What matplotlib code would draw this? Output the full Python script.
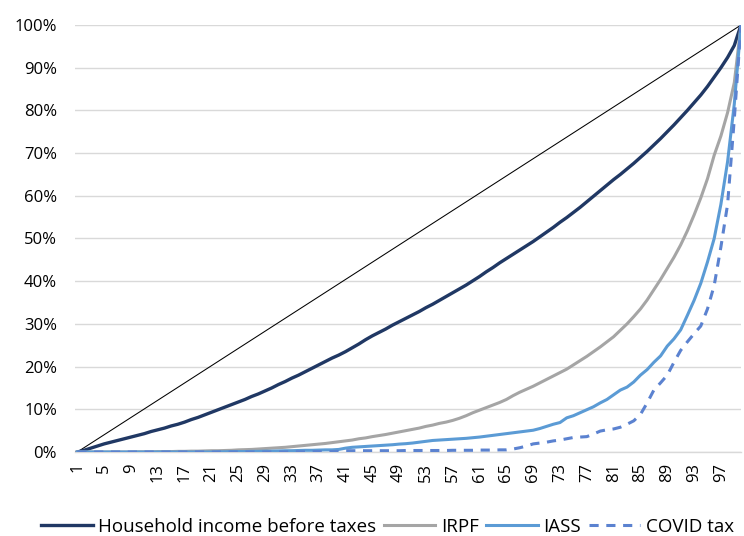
import matplotlib
matplotlib.use("Agg")
import matplotlib.pyplot as plt
from matplotlib.ticker import FuncFormatter

plt.rcParams['font.family'] = ['Open Sans', 'DejaVu Sans']

percentiles = list(range(1, 101))
tick_labels = [str(p) for p in range(1, 101, 4)]

equality_x = [1, 100]
equality_y = [0.0, 100.0]

income = [0.0, 0.4, 0.9, 1.4, 1.9, 2.3, 2.7, 3.1, 3.5, 3.9,
          4.3, 4.8, 5.2, 5.6, 6.1, 6.5, 7.0, 7.6, 8.1, 8.7,
          9.3, 9.9, 10.5, 11.1, 11.7, 12.3, 13.0, 13.6, 14.3, 15.0,
          15.8, 16.5, 17.3, 18.0, 18.8, 19.6, 20.4, 21.2, 22.0, 22.7,
          23.5, 24.4, 25.3, 26.3, 27.2, 28.0, 28.8, 29.7, 30.5, 31.3,
          32.1, 32.9, 33.8, 34.6, 35.5, 36.4, 37.3, 38.2, 39.1, 40.1,
          41.1, 42.2, 43.2, 44.3, 45.3, 46.3, 47.3, 48.3, 49.3, 50.4,
          51.5, 52.6, 53.8, 54.9, 56.1, 57.3, 58.6, 59.9, 61.2, 62.5,
          63.8, 65.0, 66.3, 67.6, 69.0, 70.4, 71.9, 73.4, 75.0, 76.6,
          78.3, 80.0, 81.8, 83.6, 85.6, 87.8, 90.0, 92.4, 95.2, 100.0]

irpf = [0.0, 0.0, 0.0, 0.0, 0.0, 0.0, 0.0, 0.0, 0.0, 0.05,
        0.05, 0.05, 0.1, 0.1, 0.1, 0.15, 0.15, 0.2, 0.2, 0.25,
        0.3, 0.3, 0.35, 0.4, 0.5, 0.55, 0.6, 0.7, 0.8, 0.9,
        1.0, 1.1, 1.25, 1.4, 1.55, 1.7, 1.85, 2.0, 2.2, 2.4,
        2.6, 2.8, 3.1, 3.3, 3.6, 3.85, 4.1, 4.4, 4.7, 5.0,
        5.3, 5.6, 6.0, 6.3, 6.7, 7.0, 7.4, 7.9, 8.5, 9.2,
        9.8, 10.4, 11.0, 11.6, 12.3, 13.2, 14.0, 14.7, 15.4, 16.2,
        17.0, 17.8, 18.6, 19.4, 20.4, 21.4, 22.4, 23.5, 24.6, 25.8,
        27.0, 28.5, 30.0, 31.7, 33.5, 35.6, 38.0, 40.4, 43.0, 45.6,
        48.5, 51.8, 55.5, 59.5, 64.0, 69.5, 74.0, 79.5, 86.5, 100.0]

iass = [0.0, 0.0, 0.0, 0.0, 0.0, 0.0, 0.0, 0.0, 0.0, 0.0,
        0.0, 0.0, 0.0, 0.0, 0.0, 0.0, 0.0, 0.0, 0.0, 0.0,
        0.0, 0.05, 0.05, 0.1, 0.1, 0.1, 0.15, 0.15, 0.2, 0.2,
        0.25, 0.3, 0.3, 0.35, 0.4, 0.4, 0.45, 0.5, 0.5, 0.6,
        0.9, 1.1, 1.2, 1.3, 1.4, 1.5, 1.6, 1.7, 1.85, 1.95,
        2.1, 2.3, 2.5, 2.7, 2.8, 2.9, 3.0, 3.1, 3.2, 3.35,
        3.5, 3.7, 3.9, 4.1, 4.3, 4.5, 4.7, 4.9, 5.1, 5.5,
        6.0, 6.5, 6.9, 8.0, 8.5, 9.2, 9.9, 10.6, 11.5, 12.3,
        13.4, 14.5, 15.2, 16.4, 18.0, 19.3, 21.0, 22.5, 24.8, 26.5,
        28.6, 32.0, 35.5, 39.5, 44.5, 50.0, 58.0, 68.0, 81.5, 100.0]

covid = [0.0, 0.0, 0.0, 0.0, 0.0, 0.0, 0.0, 0.0, 0.0, 0.0,
         0.0, 0.0, 0.0, 0.0, 0.0, 0.0, 0.0, 0.0, 0.0, 0.0,
         0.0, 0.0, 0.0, 0.0, 0.0, 0.0, 0.0, 0.0, 0.0, 0.0,
         0.0, 0.0, 0.05, 0.05, 0.05, 0.1, 0.1, 0.1, 0.1, 0.15,
         0.3, 0.3, 0.3, 0.3, 0.3, 0.3, 0.3, 0.3, 0.3, 0.35,
         0.35, 0.35, 0.35, 0.35, 0.35, 0.35, 0.4, 0.4, 0.4, 0.4,
         0.45, 0.45, 0.45, 0.5, 0.5, 0.7, 1.0, 1.4, 1.9, 2.1,
         2.3, 2.6, 2.8, 3.1, 3.4, 3.5, 3.6, 4.2, 4.9, 5.2,
         5.4, 5.8, 6.5, 7.3, 8.8, 11.5, 14.5, 16.2, 18.0, 21.0,
         23.8, 25.8, 27.7, 29.5, 33.5, 39.0, 48.0, 58.0, 78.0, 100.0]

series_names = ["Household income before taxes", "IRPF", "IASS", "COVID tax"]

fig = plt.figure(figsize=(7.44, 5.36), dpi=100)
ax = fig.add_axes([75/744, 1 - 452/536, 666/744, 427/536])

ax.plot(equality_x, [v / 100 for v in equality_y], color="black", lw=0.75, zorder=3)
ax.plot(percentiles, [v / 100 for v in income], color="#203864", lw=2.4, label=series_names[0], zorder=4)
ax.plot(percentiles, [v / 100 for v in irpf], color="#A5A5A5", lw=2.2, label=series_names[1], zorder=4)
ax.plot(percentiles, [v / 100 for v in iass], color="#5B9BD5", lw=2.2, label=series_names[2], zorder=5)
ax.plot(percentiles, [v / 100 for v in covid], color="#5B82D0", lw=2.2, ls=(0, (3, 2.5)),
        label=series_names[3], zorder=5)

ax.set_xlim(0.65, 100)
ax.set_ylim(0, 1)
ax.set_yticks([i / 10 for i in range(11)])
ax.yaxis.set_major_formatter(FuncFormatter(lambda v, p: f"{v*100:.0f}%"))
ax.set_xticks(list(range(1, 101, 4)))
ax.set_xticklabels(tick_labels, rotation=90)
ax.tick_params(axis="both", length=0, labelsize=12, colors="#000000")
ax.tick_params(axis="y", pad=13)
ax.tick_params(axis="x", pad=8)
ax.grid(axis="y", color="#D9D9D9", lw=1)
ax.set_axisbelow(True)
for s in ["left", "right", "top"]:
    ax.spines[s].set_visible(False)
ax.spines["bottom"].set_color("#D9D9D9")
ax.spines["bottom"].set_linewidth(1)

fig.legend(loc="center left", bbox_to_anchor=(41/744, 1 - 527/536), ncol=4, frameon=False,
           fontsize=13.5, handlelength=2.75, handletextpad=0.3, columnspacing=0.4, borderaxespad=0,
           borderpad=0)

fig.savefig("out.png", dpi=100)
